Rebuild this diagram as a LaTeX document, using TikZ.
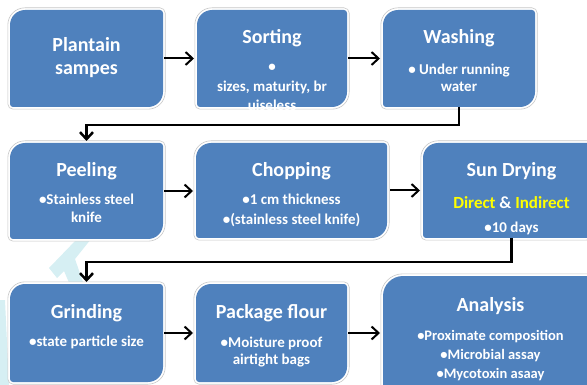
\documentclass[tikz,border=0pt]{standalone}
\usepackage{fontspec}
\setmainfont{Carlito}
\usetikzlibrary{arrows.meta}
\definecolor{boxblue}{RGB}{79,129,189}
\definecolor{wmark}{RGB}{214,239,243}
\definecolor{ylw}{RGB}{255,255,0}
\newcommand{\dshape}[4]{%
  \path[#4]
   ([xshift=-#2pt,yshift=-#3pt]#1.north west)
   arc[start angle=180,end angle=90,radius={(#3+#2)*1pt}]
   -- ([xshift=-3pt,yshift=#2pt]#1.north east)
   arc[start angle=90,end angle=0,radius={(3+#2)*1pt}]
   -- ([xshift=#2pt,yshift=#3pt]#1.south east)
   arc[start angle=0,end angle=-90,radius={(#3+#2)*1pt}]
   -- ([xshift=3pt,yshift=-#2pt]#1.south west)
   arc[start angle=270,end angle=180,radius={(3+#2)*1pt}]
   -- cycle;}
\newcommand{\ml}[3]{{\fontsize{#1}{#2}\selectfont\begin{tabular}[t]{@{}c@{}}#3\end{tabular}}}
\tikzset{
  boxn/.style={draw=none, inner sep=0pt, outer sep=0pt, rectangle},
  bfill/.style={fill=boxblue},
  bedge/.style={fill=white, draw=black!22, line width=0.6pt},
  ttl/.style={text=white, font=\fontsize{20}{23}\selectfont\bfseries, inner sep=0pt, anchor=base},
  bdy/.style={text=white, font=\fontsize{15}{17.5}\selectfont\bfseries, inner sep=0pt, anchor=base},
  arr/.style={line width=2pt, -{Straight Barb[length=7pt,width=13pt]}, shorten <=1pt, shorten >=3pt},
  elb/.style={line width=2.5pt, -{Straight Barb[length=7pt,width=13pt]}, shorten >=2pt},
}
\begin{document}
\begin{tikzpicture}[x=1pt,y=-1pt]
\useasboundingbox (0,0) rectangle (587,385);
\clip (0,0) rectangle (587,385);
% watermark
\fill[wmark] (77,239) -- (91,239) -- (75,259) -- (84,285) -- (70,285) -- (64,271) -- (57,278) -- (49,268) -- cycle;
\fill[wmark] (0,300) -- (5,300) -- (9,385) -- (0,385) -- cycle;
% box nodes
\node[boxn, minimum width=153pt, minimum height=97pt] (plant) at (86.5,58.5) {};
\node[boxn, minimum width=150pt, minimum height=97pt] (sort) at (272,58.5) {};
\node[boxn, minimum width=152pt, minimum height=97pt] (wash) at (459,58.5) {};
\node[boxn, minimum width=153pt, minimum height=96pt] (peel) at (86.5,191) {};
\node[boxn, minimum width=191pt, minimum height=95pt] (chop) at (291.5,190.5) {};
\node[boxn, minimum width=177pt, minimum height=95pt] (sun) at (511.5,190.5) {};
\node[boxn, minimum width=153pt, minimum height=98pt] (grind) at (86.5,333) {};
\node[boxn, minimum width=151pt, minimum height=98pt] (pack) at (271.5,333) {};
\node[boxn, minimum width=215pt, minimum height=124pt] (anal) at (490.5,338) {};
% shapes
\foreach \n in {plant,sort,wash,peel,chop,sun,grind,pack}{
  \dshape{\n}{2.2}{15}{bedge}
  \dshape{\n}{0}{15}{bfill}
}
\dshape{anal}{2.2}{20}{bedge}
\dshape{anal}{0}{20}{bfill}
% texts
\node[ttl] (plant-t) at (86.5,52) {\ml{20}{23}{Plantain\\sampes}};
\node[ttl] (sort-t) at (272,44) {Sorting};
\node[bdy] (sort-b) at (272,72) {\ml{15}{19.5}{•\\sizes, maturity, br\\uiseless}};
\node[ttl] (wash-t) at (459,44) {Washing};
\node[bdy] (wash-b) at (459,75) {\ml{15}{16.5}{• Under running\\water}};
\node[ttl] (peel-t) at (86.5,177) {Peeling};
\node[bdy] (peel-b) at (86.5,205) {\ml{15}{17.7}{•Stainless steel\\knife}};
\node[ttl] (chop-t) at (291.5,177) {Chopping};
\node[bdy] (chop-b) at (291.5,205) {\ml{15}{20}{•1 cm thickness\\•(stainless steel knife)}};
\node[ttl] (sun-t) at (511.5,177) {Sun Drying};
\node[bdy, font=\fontsize{17}{20}\selectfont\bfseries] (sun-b1) at (511.5,208) {\textcolor{ylw}{Direct} \& \textcolor{ylw}{Indirect}};
\node[bdy] (sun-b2) at (511.5,233) {•10 days};
\node[ttl] (grind-t) at (86.5,318) {Grinding};
\node[bdy] (grind-b) at (86.5,346.7) {•state particle size};
\node[ttl] (pack-t) at (271.5,318) {Package flour};
\node[bdy] (pack-b) at (271.5,347.7) {\ml{15}{17.3}{•Moisture proof\\airtight bags}};
\node[ttl] (anal-t) at (490.5,311.7) {Analysis};
\node[bdy] (anal-b) at (490.5,340) {\ml{14.5}{19}{•Proximate composition\\•Microbial assay\\•Mycotoxin asaay}};
% connectors
\draw[arr] (plant.east) -- (sort.west);
\draw[arr] (sort.east) -- (wash.west);
\draw[elb] (wash.south) -- ++(0,18) -| (peel.north);
\draw[arr] (peel.east) -- (peel.east -| chop.west);
\draw[arr, shorten <=3pt] (chop.east) -- (sun.west);
\draw[elb] (sun.south) -- ++(0,24) -| (grind.north);
\draw[arr] (grind.east) -- (grind.east -| pack.west);
\draw[arr] (pack.east) -- (pack.east -| anal.west);
\end{tikzpicture}
\end{document}
